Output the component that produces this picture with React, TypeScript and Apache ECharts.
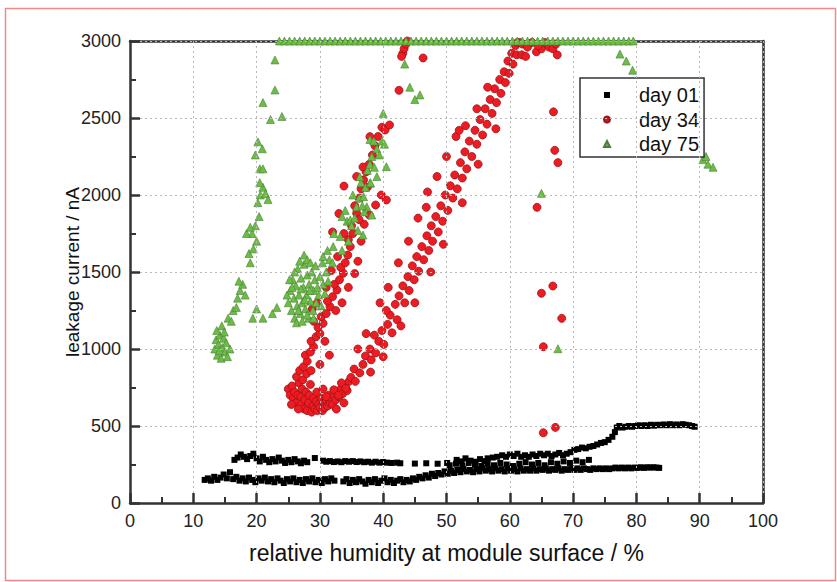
import React, { useEffect, useRef } from "react";
import * as echarts from "echarts";

const xTicks = [0, 10, 20, 30, 40, 50, 60, 70, 80, 90, 100];
const yTicks = [0, 500, 1000, 1500, 2000, 2500, 3000];
const seriesNames = ["day 01", "day 34", "day 75"];

// day 01 (black squares)
const day01Lower: number[][] = [
  [11.8,150],[12.3,160],[12.8,145],[13.3,170],[13.8,150],[14.3,165],[14.8,185],[15.3,160],[15.8,200],[16.3,155],[16.8,170],[17.3,145],[17.8,160],[18.3,140],[18.8,165],[19.3,150],[19.8,135],[20.3,160],[20.8,145],[21.3,165],[21.8,140],[22.3,155],[22.8,135],[23.3,160],[23.8,145],[24.3,130],[24.8,155],[25.3,140],[25.8,160],[26.3,135],[26.8,150],[27.3,130],[27.8,155],[28.3,140],[28.8,160],[29.3,135],[29.8,150],[30.3,130],[30.8,155],[31.3,140],[31.8,160],[32.3,145],
  [33.7,140],[34.2,155],[34.7,130],[35.2,150],[35.7,135],[36.2,155],[36.7,140],[37.2,125],[37.7,150],[38.2,135],[38.7,155],[39.2,130],[39.7,145],[40.2,160],[40.7,135],[41.2,150],[41.7,130],[42.2,145],[42.7,155],[43.2,135],[43.7,150],[44.2,140],[44.7,160],[45.2,150],[45.7,170],[46.2,160],[46.7,180],[47.2,165],[47.7,190],[48.2,175],[48.7,195],[49.2,185],[49.7,205],[50.2,190],[50.7,210],[51.2,195],[51.7,215],[52.2,200],[52.7,220],[53.2,205],[53.7,215],[54.2,200],[54.7,220],[55.2,205],[55.7,225],[56.2,210],[56.7,220],[57.2,205],[57.7,225],[58.2,210],[58.7,220],[59.2,205],[59.7,225],[60.2,210],[60.7,220],[61.2,205],[61.7,225],[62.2,210],[62.7,220],[63.2,210],[63.7,225],[64.2,210],[64.7,220],[65.2,215],[65.7,225],[66.2,210],[66.7,220],[67.2,215],[67.7,225],[68.2,210],[68.7,220],[69.2,215],[69.7,225],[70.2,215],[70.7,225],[71.2,215],[71.7,225],[72.2,220],[72.7,215],[73.2,225],[73.7,220],[74.2,225],[74.7,220],[75.2,225],[75.7,220],[76.2,225],[76.7,230],[77.2,225],[77.7,230],[78.2,225],[78.7,230],[79.2,225],[79.7,230],[80.2,228],[80.7,232],[81.2,228],[81.7,232],[82.2,230],[82.7,232],[83.2,230],[83.6,228]
];
const day01Middle: number[][] = [
  [50.5,245],[51.5,255],[52.5,240],[53.5,260],[54.5,250],[55.5,240],[56.5,255],[57.5,245],[58.5,260],[59.5,250],[60.5,240],[61.5,255],[62.5,265],[63.5,250],[64.5,260],[65.5,245],[66.5,265],[67.5,255],[68.5,270],[69.5,260],[70.5,275],[71.5,265],[72.5,280]
];
const day01Upper: number[][] = [
  [16.5,280],[17,295],[17.5,315],[18,300],[18.5,285],[19,305],[19.5,320],[20,290],[20.5,270],[21,300],[21.5,280],[22,265],[22.5,285],[23,270],[23.5,295],[24,275],[24.5,260],[25,280],[25.5,265],[26,285],[26.5,270],[27,258],[27.5,275],[28,265],[29.2,292],[30.5,275],[31,268],[31.6,272],[32.2,266],[32.8,270],[33.4,265],[34,272],[34.6,268],[35.2,272],[35.8,266],[36.4,270],[37,265],[37.6,268],[38.2,262],[38.8,268],[39.4,262],[40,266],[40.6,262],[41.3,260],[42.2,262],[42.7,258],[45,256],[46.8,258],[48.6,255],[50.1,260],[51.6,280],[52.4,270],[53,290],[53.8,275],[54.6,268],[55.3,285],[56,272],[56.5,290],[57.3,295],[58,300],[58.8,310],[59.4,300],[60,315],[60.6,305],[61.2,320],[61.8,300],[62.4,310],[63,300],[63.6,315],[64.2,305],[64.8,320],[65.4,310],[66,320],[66.6,305],[67.2,315],[67.8,325],[68.4,310],[69,320],[69.6,330],[70.2,345],[70.8,350],[71.4,360],[72,355],[72.6,365],[73.2,370],[73.8,380],[74.4,390],[75,395],[75.6,410],[76.2,430],[76.6,460],[76.9,490],[77.3,500],[77.8,490],[78.3,495],[78.8,500],[79.3,495],[79.8,500],[80.3,505],[80.8,500],[81.3,505],[81.8,500],[82.3,508],[82.8,502],[83.3,508],[83.8,505],[84.3,510],[84.8,505],[85.3,512],[85.8,505],[86.3,510],[86.8,505],[87.3,512],[87.8,508],[88.3,505],[88.8,500],[89.2,495]
];

// day 34 (red circles)
const day34Bottom: number[][] = [
  [25,740],[25.3,700],[25.6,760],[25.8,680],[26,720],[26.2,650],[26.5,700],[26.7,780],[27,640],[27,690],[27.2,740],[27.5,610],[27.6,670],[27.8,720],[28,600],[28.2,650],[28.3,700],[28.5,770],[28.7,590],[28.9,630],[29,680],[29.2,610],[29.4,660],[29.6,600],[29.8,640],[30,620],[30.2,680],[30.4,600],[30.6,650],[30.8,620],[31,670],[31.2,630],[31.4,700],[31.6,650],[31.8,680],[32,640],[32.2,700],[32.5,670],[32.8,720],[33,690],[33.3,740],[33.6,710],[34,760],[34.3,730],[34.6,790],[26.3,820],[27.3,800],[27.9,840],[29.5,720],[30.5,740],[28.6,860],[26.8,860],[25.5,640],[26.6,610],[33.8,650],[32.6,610]
];
const day34LeftBranch: number[][] = [
  [27.4,885],[28,920],[27.7,960],[28.5,980],[29,1015],[28.6,1050],[29.4,1080],[30,1100],[29.7,1140],[30.5,1167],[30.2,1210],[31,1230],[31.6,1275],[31.2,1310],[32,1340],[32.7,1383],[32.3,1420],[33.1,1450],[33.7,1492],[33.3,1530],[34,1560],[34.4,1610],[34.8,1665],[34.5,1710],[35.2,1750],[35,1800],[35.8,1881],[35.5,1930],[36.2,1980],[36.5,2040],[36.9,2098],[37.3,2150],[37.8,2200],[38.3,2260],[38.7,2320],[39.2,2380],[39.8,2440],
  [29,1180],[28.8,1260],[30.8,1050],[31.5,960],[30,900],[32.5,1250],[33.5,1300],[34.5,1400],[32.8,1600],[31.8,1510],[33.8,1750],[36,1570],[36.5,1700],[35.5,1490],[37,1810],[37.8,1870],[38.8,1935],[40.5,1968],[39.7,2000],[37.5,2050],[33.8,2058],[36.8,2182],[37.9,2379],[40.3,2422],[41,2455],[35.8,2120],[36.2,1840],[32,1760],[33,1880],[29.6,1300],[31,1400]
];
const day34RightBranch: number[][] = [
  [31,690],[32.2,735],[32.9,700],[33.4,780],[34.1,745],[34.9,815],[35.6,790],[35.4,870],[36.3,845],[36.8,900],[37.2,955],[38.1,930],[37.9,1000],[38.8,975],[39.3,1050],[38.6,1090],[40.1,1030],[39.8,1120],[40.7,1160],[41.4,1105],[41.1,1220],[42.2,1190],[41.9,1290],[42.5,1345],[43.4,1300],[43.1,1410],[44.1,1380],[43.9,1470],[44.9,1450],[44.6,1540],[45.6,1505],[45.3,1600],[46.4,1580],[46.1,1665],[47.2,1640],[46.9,1735],[47.8,1700],[47.6,1800],[48.7,1760],[48.3,1860],[49.4,1830],[49.1,1930],[50.2,1900],[49.8,2000],[51,1980],[50.6,2060],[51.7,2040],[51.3,2130],[52.5,2110],[52.2,2210],[53.2,2170],[52.9,2280],[54,2250],[53.6,2350],[54.8,2330],[54.5,2420],[55.7,2390],[55.3,2490],[56.4,2460],[56.1,2560],[57.2,2530],[56.9,2620],[57.9,2600],[57.6,2690],[58.6,2660],[58.4,2750],[59.3,2730],[59.1,2800],[59.9,2790],[59.7,2870],[60.5,2850],[60.3,2920],[61.1,2910],[60.9,2970],[61.6,2990],
  [36,1000],[37.3,1100],[39.5,1300],[40.8,1400],[42.4,1560],[44,1700],[45.5,1850],[47,2020],[48.5,2120],[50,2250],[51.5,2380],[53,2450],[54.8,2560],[56.5,2700],[40.5,1250],[46.8,1920],[52,2420],
  [38,850],[40,950],[42.8,1150],[45,1300],[47.5,1500],[49.5,1680],[52.5,1950],[55,2200],[57.8,2430]
];
const day34Top: number[][] = [
  [61.2,2990],[61.9,2910],[62,2980],[62.8,2960],[63.5,2990],[64.2,2930],[65,2950],[65.6,2990],[66.2,2960],[66.8,2950],[67.3,2980],[62.5,2900],[64.5,2970],[67.5,2910],
  [42.5,2680],[46.3,2890],[43.1,2920],[43.3,2950],[43.6,2980],[43.8,3000],[42.9,2900]
];
const day34Isolated: number[][] = [
  [64.3,1920],[66.9,2540],[67.1,2290],[67.6,2210],[65,1362],[66.8,1409],[68.2,1199],[65.3,1015],[65.3,456],[67.2,491]
];

// day 75 (green triangles)
const day75TopX: number[] = [
  23.6,24.4,25.2,26,26.8,27.6,28.4,29.2,30,30.8,31.6,32.4,33.2,34,34.8,35.6,36.4,37.2,38,38.8,39.6,40.4,41.2,42,42.8,43.6,44.4,45.2,46,46.8,47.6,48.4,49.2,50,50.8,51.6,52.4,53.2,54,54.8,55.6,56.4,57.2,58,58.8,59.6,60.4,61.2,62,62.8,63.6,64.4,65.2,66,66.8,67.6,68.4,69.2,70,70.8,71.6,72.4,73.2,74,74.8,75.6,76.4,77.2,78,78.8,79.5
];
const day75LeftCluster: number[][] = [
  [13.4,1000],[13.6,1060],[13.8,960],[14,1030],[14.2,1090],[14.4,940],[14.6,1010],[14.8,1070],[15,980],[15.2,1040],[15.4,950],[13.7,1120],[14.5,1150],[15.8,1000],[14.1,990],[14.9,1110],
  [15.5,1200],[16,1180],[16.3,1250],[16.8,1270],[17,1330],[17.4,1380],[17.8,1420],[17.2,1440],[18.2,1350],[19.4,1200],[20,1260],[21,1200],[22.5,1230],[23.2,1270],[18.8,1620],[19,1560],[19.5,1650],[20,1700],[19.3,1750],[19.8,1800],[20.4,1860],[18.4,1750],[19,1790],[20.2,1950],[20.6,2000],[21,2050],[21.4,2010],[21.8,1970],[20.5,2080],[20.5,2170],[21,2170],[19.8,2260],[20.9,2300],[20.2,2345],[22.2,2490],[24,2510],[21,2600],[22.9,2682],[22.9,2877]
];
const day75Cluster: number[][] = [
  [25,1300],[25.3,1380],[25.5,1250],[25.7,1450],[25.9,1330],[26,1200],[26.2,1410],[26.4,1280],[26.5,1520],[26.7,1350],[26.9,1230],[27,1460],[27.2,1300],[27.4,1400],[27.5,1550],[27.7,1260],[27.9,1350],[28,1480],[28.2,1200],[28.3,1420],[28.5,1310],[28.7,1500],[28.9,1250],[29,1380],[29.2,1450],[29.4,1300],[29.6,1400],[29.8,1350],[30,1470],[30.2,1280],[30.5,1420],[30.8,1360],[31,1500],[31.3,1440],[24.8,1350],[25.2,1450],[26,1500],[26.8,1570],[27.5,1610],[28,1580],[28.5,1560],[26.3,1170],[27.2,1180],[28,1220],[29,1200],[26.6,1250],[27.6,1320],[28.4,1380],[25.6,1400],[27,1390],[29.3,1540],[30.4,1560],[31.5,1580]
];
const day75UpperArm: number[][] = [
  [30.5,1600],[31.2,1640],[32.1,1665],[32.2,1750],[33.2,1730],[33.5,1860],[34,1900],[34.3,1830],[34.8,1838],[35.2,2000],[35.8,1924],[36.2,1980],[36.5,2080],[36.9,1989],[37.2,2050],[37.9,2076],[37.5,2160],[37.9,2200],[38.2,2250],[38.6,2180],[39,2300],[39.4,2260],[39.8,2350],[40.2,2330],[40.5,2184],[37.9,2360],[38.5,2350],[40,2530],[36,1770],[36.8,1740],[37,1890],[35.5,1850],[37.4,1924],[38.2,1870],[38,2080],[36.3,2119],[39,2120],[32,1560],[33.5,1640],[34.5,1700],[35,1800],[36.7,1930]
];
const day75Scattered: number[][] = [
  [43.4,2850],[44.2,2700],[45.8,2650],[45,2620],[65,2011],[67.6,1002],[77.4,2915],[78.4,2870],[79.4,2810],[90.5,2230],[91.3,2200],[92.1,2180],[91,2250]
];

const day01Data = [...day01Lower, ...day01Middle, ...day01Upper];
const day34Data = [...day34Bottom, ...day34LeftBranch, ...day34RightBranch, ...day34Top, ...day34Isolated];
const day75Data = [
  ...day75TopX.map((x) => [x, 3000]),
  ...day75LeftCluster,
  ...day75Cluster,
  ...day75UpperArm,
  ...day75Scattered,
];

const FONT = "'Liberation Sans', Arial, Helvetica, sans-serif";
const AXIS_COLOR = "#333";

export default function App() {
  const ref = useRef<HTMLDivElement>(null);
  useEffect(() => {
    if (!ref.current) return;
    const chart = echarts.init(ref.current, null, { renderer: "svg" });
    const label = { color: "#222", fontSize: 18, fontFamily: FONT, margin: 9, formatter: (v: number) => String(v) };
    const line = { show: true, onZero: false, lineStyle: { color: AXIS_COLOR, width: 2.5 } };
    const tick = { show: true, inside: true, length: 10, lineStyle: { color: AXIS_COLOR, width: 2.5 } };
    const minor = { show: true, splitNumber: 2, length: 6, lineStyle: { color: AXIS_COLOR, width: 2 } };
    const split = { show: true, lineStyle: { color: "#b8b8b8", type: [2, 3], width: 1 } };
    chart.setOption({
      animation: false,
      textStyle: { fontFamily: FONT },
      grid: { left: 130, right: 74, top: 41, bottom: 79 },
      xAxis: [
        {
          type: "value",
          position: "bottom",
          min: xTicks[0],
          max: xTicks[xTicks.length - 1],
          interval: 10,
          name: "relative humidity at module surface / %",
          nameLocation: "middle",
          nameGap: 38,
          nameMoveOverlap: false,
          nameTextStyle: { color: "#111", fontSize: 23, fontFamily: FONT },
          axisLine: line,
          axisTick: tick,
          minorTick: minor,
          splitLine: split,
          axisLabel: label,
          z: 5,
        },
        {
          type: "value",
          position: "top",
          min: xTicks[0],
          max: xTicks[xTicks.length - 1],
          interval: 10,
          axisLine: line,
          axisTick: { show: false },
          axisLabel: { show: false },
          splitLine: { show: false },
        },
      ],
      yAxis: [
        {
          type: "value",
          position: "left",
          min: yTicks[0],
          max: yTicks[yTicks.length - 1],
          interval: 500,
          name: "leakage current / nA",
          nameLocation: "middle",
          nameGap: 48,
          nameMoveOverlap: false,
          nameTextStyle: { color: "#111", fontSize: 19, fontFamily: FONT },
          axisLine: line,
          axisTick: tick,
          minorTick: minor,
          splitLine: split,
          axisLabel: label,
          z: 5,
        },
        {
          type: "value",
          position: "right",
          min: yTicks[0],
          max: yTicks[yTicks.length - 1],
          interval: 500,
          axisLine: line,
          axisTick: { show: false },
          axisLabel: { show: false },
          splitLine: { show: false },
        },
      ],
      legend: {
        orient: "vertical",
        left: 580,
        top: 78,
        width: 123,
        padding: [5, 5, 1, 23],
        itemGap: 0.5,
        itemWidth: 6,
        itemHeight: 6,
        borderColor: "#333",
        borderWidth: 1.5,
        backgroundColor: "#fff",
        textStyle: { fontSize: 20, color: "#111", fontFamily: FONT, lineHeight: 24, padding: [0, 0, 0, 24] },
        data: [
          { name: seriesNames[0], icon: "rect", itemStyle: { color: "#000" } },
          { name: seriesNames[1], icon: "circle", itemStyle: { color: "#d11820" } },
          { name: seriesNames[2], icon: "triangle", itemStyle: { color: "#8aa080" } },
        ],
      },
      series: [
        {
          name: seriesNames[0],
          type: "scatter",
          symbol: "rect",
          symbolSize: 6,
          itemStyle: { color: "#000", opacity: 1 },
          data: day01Data,
        },
        {
          name: seriesNames[1],
          type: "scatter",
          symbol: "circle",
          symbolSize: 8,
          itemStyle: { color: "#ee1c22", borderColor: "#9a1418", borderWidth: 0.8, opacity: 1 },
          data: day34Data,
        },
        {
          name: seriesNames[2],
          type: "scatter",
          symbol: "triangle",
          symbolSize: 8,
          itemStyle: { color: "#6cbd45", borderColor: "#4a7f35", borderWidth: 0.6, opacity: 1 },
          data: day75Data,
        },
      ],
      graphic: [
        {
          type: "rect",
          left: 3,
          top: 6,
          shape: { width: 830, height: 572 },
          style: { fill: "none", stroke: "#f08a8a", lineWidth: 1.5 },
          silent: true,
        },
      ],
    });
    return () => chart.dispose();
  }, []);
  return (
    <div
      ref={ref}
      style={{ position: "fixed", left: 0, top: 0, width: 837, height: 582, background: "#fff" }}
    />
  );
}
